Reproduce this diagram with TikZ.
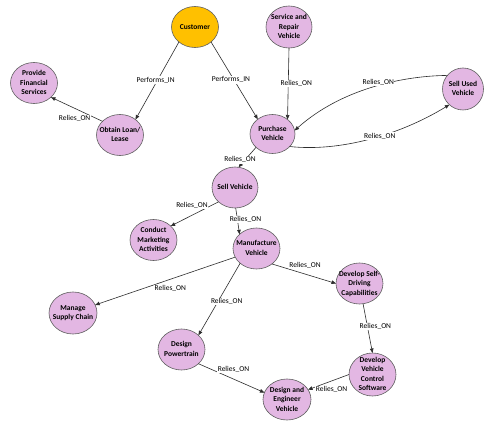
\documentclass[tikz,border=0pt]{standalone}
\usepackage{fontspec}
\setmainfont{Carlito}
\usetikzlibrary{shapes.geometric,arrows.meta}
\definecolor{lilac}{RGB}{227,183,227}
\definecolor{custorange}{RGB}{255,192,0}
\definecolor{rimgray}{RGB}{95,95,95}
\definecolor{edgegray}{RGB}{45,45,45}
\newcommand{\nt}[1]{\raisebox{-2pt}[0pt][0pt]{\makebox[0pt]{\begin{tabular}{@{}c@{}}#1\end{tabular}}}}
\begin{document}
\begin{tikzpicture}[x=1pt,y=-1pt,
  ent/.style={ellipse, draw=rimgray, line width=0.6pt, fill=lilac,
    minimum width=47pt, minimum height=41pt, inner sep=0pt, outer sep=0pt,
    font=\fontsize{7.5}{9.5}\selectfont\bfseries},
  custnode/.style={ent, fill=custorange},
  rel/.style={draw=edgegray, line width=0.6pt, -{Triangle[length=4.5pt,width=3.6pt]}},
  lbl/.style={fill=white, inner sep=0.6pt, font=\fontsize{7.5}{9}\selectfont, text=black}
]
\useasboundingbox[fill=white] (0,0) rectangle (496,425);

% nodes
\node[custnode] (cust) at (195,27) {\nt{Customer}};
\node[ent] (pfs) at (34,83) {\nt{Provide\\Financial\\Services}};
\node[ent] (loan) at (120,135) {\nt{Obtain Loan/\\Lease}};
\node[ent, minimum width=46pt, minimum height=42pt] (serv) at (289,27) {\nt{Service and\\Repair\\Vehicle}};
\node[ent, minimum width=41pt, minimum height=42pt] (suv) at (463,89) {\nt{Sell Used\\Vehicle}};
\node[ent, minimum width=45pt, minimum height=39pt] (pv) at (272.5,134) {\nt{Purchase\\Vehicle}};
\node[ent, minimum width=46pt] (sell) at (235,187.5) {\nt{Sell Vehicle}};
\node[ent] (mkt) at (153.5,240) {\nt{Conduct\\Marketing\\Activities}};
\node[ent] (mfg) at (256.5,248.5) {\nt{Manufacture\\Vehicle}};
\node[ent, minimum width=48pt, minimum height=42pt] (msc) at (73,313) {\nt{Manage\\Supply Chain}};
\node[ent] (dpt) at (181.5,349.5) {\nt{Design\\Powertrain}};
\node[ent] (dsd) at (359.5,283.5) {\nt{Develop Self-\\Driving\\Capabilities}};
\node[ent, minimum height=43pt] (dvcs) at (372.5,374.5) {\nt{Develop\\Vehicle\\Control\\Software}};
\node[ent, minimum width=48pt] (dev) at (287,399.5) {\nt{Design and\\Engineer\\Vehicle}};

% connectors
\draw[rel] (cust.-137) -- node[lbl, pos=.49, xshift=-2pt] (l1) {Performs\_IN} (loan.45);
\draw[rel] (cust.-43) -- node[lbl, pos=.49, xshift=-3pt] (l2) {Performs\_IN} (pv.135);
\draw[rel] (loan.142) -- node[lbl, pos=.54, yshift=-10pt] (l3) {Relies\_ON} (pfs.-40);
\draw[rel] (serv.270) -- node[lbl, pos=.5, xshift=8pt] (l4) {Relies\_ON} (pv.44);
\draw[rel] (suv.139) .. controls (400,76) and (340,90) .. node[lbl, pos=.45, yshift=3pt] (l5) {Relies\_ON} (pv.9);
\draw[rel] (pv.-36) .. controls (340,152) and (400,135) .. node[lbl, pos=.56] (l6) {Relies\_ON} (suv.-131);
\draw[rel] (pv.-141) -- node[lbl, pos=.63, xshift=-5pt] (l7) {Relies\_ON} (sell.80);
\draw[rel] (sell.-139) -- node[lbl, pos=.556, yshift=10pt] (l8) {Relies\_ON} (mkt.39);
\draw[rel] (sell.-88) -- node[lbl, pos=.445, xshift=8pt] (l9) {Relies\_ON} (mfg.140);
\draw[rel] (mfg.-45) -- node[lbl, pos=.516, yshift=9pt] (l10) {Relies\_ON} (dsd.180);
\draw[rel] (mfg.-158) -- node[lbl, pos=.463, yshift=-9pt] (l11) {Relies\_ON} (msc.20);
\draw[rel] (mfg.-138) -- node[lbl, pos=.529, xshift=8.6pt] (l12) {Relies\_ON} (dpt.40);
\draw[rel] (dpt.-40) -- node[lbl, pos=.531, yshift=10pt] (l13) {Relies\_ON} (dev.163);
\draw[rel] (dsd.-80) -- node[lbl, pos=.46, xshift=8pt] (l14) {Relies\_ON} (dvcs.90);
\draw[rel] (dvcs.180) -- node[lbl, pos=.425, yshift=-8.6pt] (l15) {Relies\_ON} (dev.25);
\end{tikzpicture}
\end{document}
